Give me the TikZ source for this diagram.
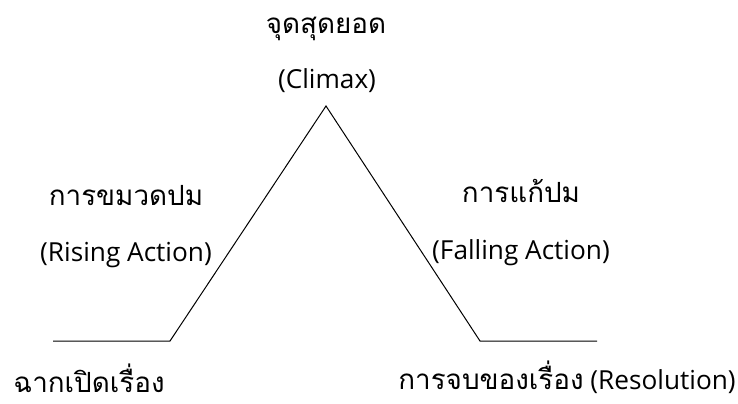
\documentclass[tikz,border=0pt]{standalone}
\usepackage{fontspec}
\setmainfont{Open Sans}
\newfontfamily\thaifont[Script=Thai]{Loma}
\usetikzlibrary{positioning}

\begin{document}
\begin{tikzpicture}[
            x = 0.5pt, y = -0.5pt, % one unit = one pixel of the sketch
            line width = 0.5pt, % plot line
            label/.style = {anchor = base, inner sep = 0pt, font = \fontsize{13.1}{16}\selectfont},
            thai/.style = {label, font = \fontsize{13.9}{16}\selectfont\thaifont}
        ]

        \useasboundingbox (0,0) rectangle (738,403);

        % corners of the plot
        \coordinate (start) at (53,341);
        \coordinate (rise) at (170,341);
        \coordinate (peak) at (326,106);
        \coordinate (fall) at (480,341);
        \coordinate (finish) at (597,341);

        \draw (start) -- (rise) -- (peak) -- (fall) -- (finish);

        \node[thai] (climaxth) at (326,33) {จุดสุดยอด};
        \node[label] (climax) at (327,88) {(Climax)};

        \node[thai] (risingth) at (126,205) {การขมวดปม};
        \node[label] (rising) at (126,261) {(Rising Action)};

        \node[thai] (fallingth) at (521,202) {การแก้ปม};
        \node[label] (falling) at (521,259) {(Falling Action)};

        \node[thai] (opening) at (89,392) {ฉากเปิดเรื่อง};
        \node[label] (ending) at (567,389) {{\fontsize{13.9}{16}\selectfont\thaifont การจบของเรื่อง} (Resolution)};

  \end{tikzpicture}
\end{document}
